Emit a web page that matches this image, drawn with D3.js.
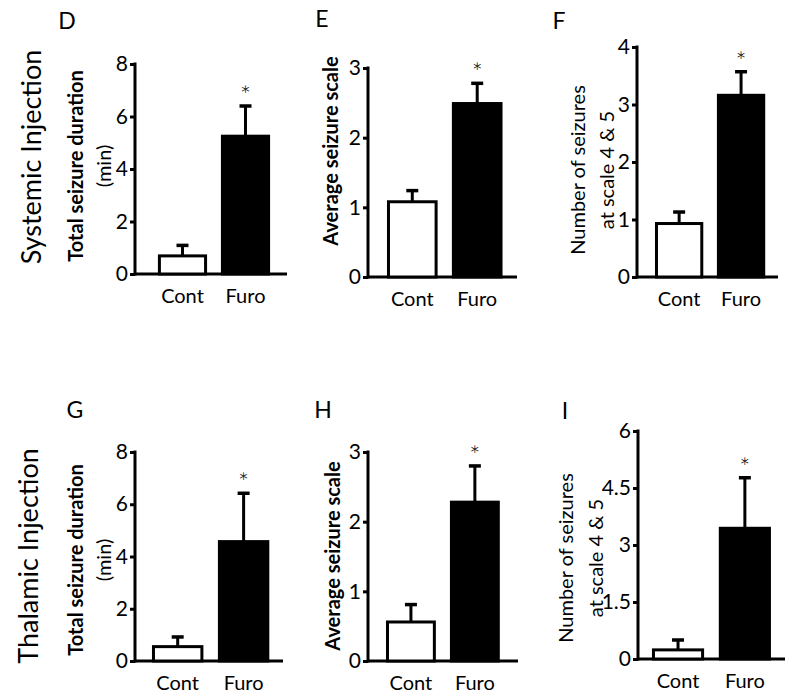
<!DOCTYPE html>
<html>
<head>
<meta charset="utf-8">
<script src="https://cdn.jsdelivr.net/npm/d3@7"></script>
<style>
  html, body { margin: 0; padding: 0; background: #fff; }
  svg { display: block; }
  text { font-family: "Lato", "Open Sans", sans-serif; fill: #000; }
</style>
</head>
<body>
<svg id="chart" width="800" height="699"></svg>
<script>
// ---------------- DATA ----------------
const categories = ["Cont", "Furo"];
const rowLabels = ["Systemic Injection", "Thalamic Injection"];
const panelLetters = ["D", "E", "F", "G", "H", "I"];
const yTitleDuration = ["Total seizure duration", "(min)"];
const yTitleScale = ["Average seizure scale"];
const yTitleNumber = ["Number of seizures", "at scale 4 & 5"];

// Means and SEM (upper error only)
const meanD = [0.69, 5.25];  const semD = [0.40, 1.15];
const meanE = [1.08, 2.49];  const semE = [0.16, 0.29];
const meanF = [0.93, 3.16];  const semF = [0.20, 0.41];
const meanG = [0.55, 4.57];  const semG = [0.37, 1.85];
const meanH = [0.56, 2.28];  const semH = [0.25, 0.52];
const meanI = [0.24, 3.44];  const semI = [0.26, 1.33];

const ticksD = [0, 2, 4, 6, 8];
const ticksE = [0, 1, 2, 3];
const ticksF = [0, 1, 2, 3, 4];
const ticksG = [0, 2, 4, 6, 8];
const ticksH = [0, 1, 2, 3];
const ticksI = [0, 1.5, 3, 4.5, 6];
const tickLabelsI = ["0", "1.5", "3", "4.5", "6"];

// ---------------- LAYOUT ----------------
const panels = [
  { letter: panelLetters[0], mean: meanD, sem: semD, ticks: ticksD, tickLabels: null, title: yTitleDuration, titleWeights: [700, 400], titleSize: 20,
    axisX: 135, xEnd: 287, y0: 274, y1: 64, band: [139, 289], letterPos: [67, 20], titleX: [75, 103], titleY: 166 },
  { letter: panelLetters[1], mean: meanE, sem: semE, ticks: ticksE, tickLabels: null, title: yTitleScale, titleWeights: [700], titleSize: 20,
    axisX: 368, xEnd: 517, y0: 277, y1: 68, band: [367.5, 522], letterPos: [322, 18], titleX: [330], titleY: 151 },
  { letter: panelLetters[2], mean: meanF, sem: semF, ticks: ticksF, tickLabels: null, title: yTitleNumber, titleWeights: [400, 400], titleSize: 20,
    axisX: 637, xEnd: 778, y0: 277, y1: 47, band: [636.4, 783.8], letterPos: [559, 20], titleX: [577, 606], titleY: 170 },
  { letter: panelLetters[3], mean: meanG, sem: semG, ticks: ticksG, tickLabels: null, title: yTitleDuration, titleWeights: [700, 400], titleSize: 20,
    axisX: 135, xEnd: 283, y0: 661, y1: 452, band: [132.2, 289.1], letterPos: [75, 409], titleX: [75, 103], titleY: 560 },
  { letter: panelLetters[4], mean: meanH, sem: semH, ticks: ticksH, tickLabels: null, title: yTitleScale, titleWeights: [700], titleSize: 20,
    axisX: 368, xEnd: 518, y0: 661, y1: 452, band: [366.8, 519], letterPos: [323, 409], titleX: [332], titleY: 556 },
  { letter: panelLetters[5], mean: meanI, sem: semI, ticks: ticksI, tickLabels: tickLabelsI, title: yTitleNumber, titleWeights: [400, 400], titleSize: 20,
    axisX: 638, xEnd: 785, y0: 659, y1: 431, band: [631.9, 791], letterPos: [565, 410], titleX: [565, 595], titleY: 558 }
];

const svg = d3.select("#chart");

// Row labels
const rowPos = [[30, 157], [27, 556]];
rowLabels.forEach((t, i) => {
  svg.append("text")
    .attr("transform", `translate(${rowPos[i][0]},${rowPos[i][1]}) rotate(-90)`)
    .attr("text-anchor", "middle")
    .attr("dominant-baseline", "central")
    .style("font-size", "27px")
    .style("font-weight", 400)
    .text(t);
});

panels.forEach(p => {
  const g = svg.append("g");
  const y = d3.scaleLinear().domain([p.ticks[0], p.ticks[p.ticks.length - 1]]).range([p.y0, p.y1]);
  const x = d3.scaleBand().domain(categories).range(p.band).paddingInner(0.22).paddingOuter(0.3);

  // panel letter
  g.append("text")
    .attr("x", p.letterPos[0]).attr("y", p.letterPos[1])
    .attr("text-anchor", "middle").attr("dominant-baseline", "central")
    .style("font-size", "23px")
    .text(p.letter);

  // y axis
  const yAxis = d3.axisLeft(y).tickValues(p.ticks).tickSize(5).tickPadding(2)
    .tickFormat((d, i) => p.tickLabels ? p.tickLabels[i] : d3.format("d")(d));
  const ya = g.append("g").attr("transform", `translate(${p.axisX},0)`).call(yAxis);
  ya.select(".domain").remove();
  ya.selectAll(".tick line").attr("stroke", "#000").attr("stroke-width", 3);
  ya.selectAll(".tick text").style("font-size", "21px").style("font-family", "Lato, 'Open Sans', sans-serif").attr("fill", "#000");
  g.append("line")
    .attr("x1", p.axisX).attr("x2", p.axisX)
    .attr("y1", y.range()[1] - 1.5).attr("y2", p.y0 + 1.5)
    .attr("stroke", "#000").attr("stroke-width", 3);

  // x axis
  g.append("line")
    .attr("x1", p.axisX).attr("x2", p.xEnd)
    .attr("y1", p.y0).attr("y2", p.y0)
    .attr("stroke", "#000").attr("stroke-width", 3);
  categories.forEach(c => {
    g.append("text")
      .attr("x", x(c) + x.bandwidth() / 2).attr("y", p.y0 + 21)
      .attr("text-anchor", "middle").attr("dominant-baseline", "central")
      .style("font-size", "20px")
      .text(c);
  });

  // error bars (upper only)
  categories.forEach((c, i) => {
    const cx = x(c) + x.bandwidth() / 2;
    g.append("line")
      .attr("x1", cx).attr("x2", cx)
      .attr("y1", y(p.mean[i])).attr("y2", y(p.mean[i] + p.sem[i]))
      .attr("stroke", "#000").attr("stroke-width", 3);
    g.append("line")
      .attr("x1", cx - 6).attr("x2", cx + 6)
      .attr("y1", y(p.mean[i] + p.sem[i])).attr("y2", y(p.mean[i] + p.sem[i]))
      .attr("stroke", "#000").attr("stroke-width", 3.5);
  });

  // bars
  g.selectAll("rect.bar").data(categories).enter().append("rect")
    .attr("x", c => x(c) + 1.5)
    .attr("width", x.bandwidth() - 3)
    .attr("y", (c, i) => y(p.mean[i]))
    .attr("height", (c, i) => p.y0 - y(p.mean[i]))
    .attr("fill", (c, i) => i === 0 ? "#fff" : "#000")
    .attr("stroke", "#000").attr("stroke-width", 3);

  // significance asterisk on Furo
  const fx = x(categories[1]) + x.bandwidth() / 2;
  g.append("text")
    .attr("x", fx).attr("y", y(p.mean[1] + p.sem[1]) - 1)
    .attr("text-anchor", "middle")
    .style("font-size", "26px")
    .style("font-weight", 300)
    .text("*");

  // y axis title
  p.title.forEach((t, k) => {
    g.append("text")
      .attr("transform", `translate(${p.titleX[k]},${p.titleY}) rotate(-90)`)
      .attr("text-anchor", "middle").attr("dominant-baseline", "central")
      .style("font-size", p.titleSize + "px")
      .style("font-weight", p.titleWeights[k])
      .text(t);
  });
});
</script>
</body>
</html>
